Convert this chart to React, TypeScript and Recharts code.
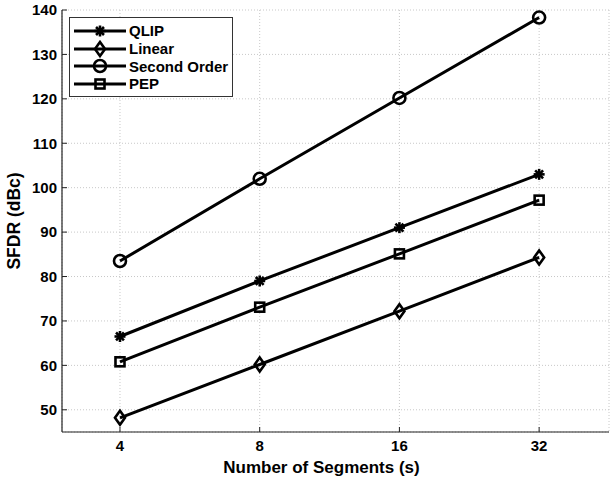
import React from 'react';
import {
    LineChart,
    Line,
    XAxis,
    YAxis,
    CartesianGrid,
    Legend
} from 'recharts';

const segments = ['4', '8', '16', '32'];
const qlip = [66.5, 79.0, 91.0, 103.0];
const linear = [48.2, 60.2, 72.2, 84.3];
const secondOrder = [83.5, 102.0, 120.2, 138.3];
const pep = [60.8, 73.1, 85.1, 97.2];
const yTicks = [50, 60, 70, 80, 90, 100, 110, 120, 130, 140];

const data = segments.map((s, i) => ({
    idx: i + 1,
    seg: s,
    qlip: qlip[i],
    linear: linear[i],
    second: secondOrder[i],
    pep: pep[i],
}));

const series = [
    { key: 'qlip', name: 'QLIP', marker: 'star' },
    { key: 'linear', name: 'Linear', marker: 'diamond' },
    { key: 'second', name: 'Second Order', marker: 'circle' },
    { key: 'pep', name: 'PEP', marker: 'square' },
];

const FONT = '"Liberation Sans", Arial, Helvetica, sans-serif';

const Marker = ({ cx, cy, kind }: { cx: number; cy: number; kind: string }) => {
    const sw = 2.6;
    if (kind === 'star') {
        const r = 5.5;
        const d = r * 0.72;
        return (
            <g stroke="#000" strokeWidth={sw} strokeLinecap="butt">
                <line x1={cx - r} y1={cy} x2={cx + r} y2={cy} />
                <line x1={cx} y1={cy - r} x2={cx} y2={cy + r} />
                <line x1={cx - d} y1={cy - d} x2={cx + d} y2={cy + d} />
                <line x1={cx - d} y1={cy + d} x2={cx + d} y2={cy - d} />
            </g>
        );
    }
    if (kind === 'diamond') {
        return (
            <path
                d={`M${cx},${cy - 7} L${cx + 5},${cy} L${cx},${cy + 7} L${cx - 5},${cy} Z`}
                fill="none"
                stroke="#000"
                strokeWidth={sw}
            />
        );
    }
    if (kind === 'circle') {
        return <circle cx={cx} cy={cy} r={6} fill="none" stroke="#000" strokeWidth={sw} />;
    }
    return <rect x={cx - 4.5} y={cy - 4.5} width={9} height={9} fill="none" stroke="#000" strokeWidth={sw} />;
};

const CustomLegend = () => (
    <div
        style={{
            border: '1px solid #333',
            background: '#fff',
            padding: '4px 0 3px 0',
            fontFamily: FONT,
            fontWeight: 'bold',
            fontSize: 15,
            color: '#000',
        }}
    >
        {series.map((s) => (
            <div key={s.key} style={{ display: 'flex', alignItems: 'center', height: 17.7 }}>
                <svg width={59} height={18} style={{ display: 'block' }}>
                    <line x1={4} y1={9} x2={56} y2={9} stroke="#000" strokeWidth={3} />
                    <Marker cx={30} cy={9} kind={s.marker} />
                </svg>
                <span style={{ lineHeight: '17px' }}>{s.name}</span>
            </div>
        ))}
    </div>
);

export default function App() {
    return (
        <div style={{ position: 'absolute', left: 0, top: 0, background: '#fff' }}>
            <LineChart
                width={610}
                height={480}
                data={data}
                margin={{ top: 10, right: 1, left: 0, bottom: 0 }}
                style={{ fontFamily: FONT }}
            >
                <CartesianGrid stroke="#c8c8c8" strokeDasharray="1 2" />
                <XAxis
                    dataKey="idx"
                    type="number"
                    domain={[0.585, 4.5]}
                    ticks={[1, 2, 3, 4]}
                    allowDataOverflow
                    height={48}
                    tickFormatter={(v: number) => segments[v - 1]}
                    tick={{ fill: '#000', fontSize: 15, fontWeight: 'bold' }}
                    tickSize={-5}
                    tickMargin={13}
                    tickLine={{ stroke: '#222' }}
                    axisLine={{ stroke: '#222', strokeWidth: 1.2 }}
                    label={{
                        value: 'Number of Segments (s)',
                        position: 'insideBottom',
                        offset: 7,
                        dx: -14,
                        fill: '#000',
                        fontSize: 17,
                        fontWeight: 'bold',
                        fontFamily: FONT,
                    }}
                />
                <XAxis
                    xAxisId="top"
                    dataKey="idx"
                    type="number"
                    orientation="top"
                    domain={[0.585, 4.5]}
                    ticks={[1, 2, 3, 4]}
                    allowDataOverflow
                    height={0}
                    tick={false}
                    tickSize={-5}
                    tickLine={{ stroke: '#222' }}
                    axisLine={{ stroke: '#222', strokeWidth: 1.2 }}
                />
                <YAxis
                    domain={[45, 140]}
                    ticks={yTicks}
                    allowDataOverflow
                    width={62}
                    tick={{ fill: '#000', fontSize: 15, fontWeight: 'bold' }}
                    tickSize={-5}
                    tickMargin={10}
                    tickLine={{ stroke: '#222' }}
                    axisLine={{ stroke: '#222', strokeWidth: 1.2 }}
                    label={{
                        value: 'SFDR (dBc)',
                        angle: -90,
                        position: 'insideLeft',
                        offset: 14,
                        fill: '#000',
                        fontSize: 17.5,
                        fontWeight: 'bold',
                        fontFamily: FONT,
                        textAnchor: 'middle',
                    }}
                />
                <YAxis
                    yAxisId="right"
                    orientation="right"
                    domain={[45, 140]}
                    ticks={yTicks}
                    allowDataOverflow
                    width={0}
                    tick={false}
                    tickSize={-5}
                    tickLine={{ stroke: '#222' }}
                    axisLine={{ stroke: '#222', strokeWidth: 1.2 }}
                />
                <Legend
                    layout="horizontal"
                    verticalAlign="middle"
                    align="center"
                    content={<CustomLegend />}
                    wrapperStyle={{ position: 'absolute', left: 69, top: 17, width: 164, height: 'auto' }}
                />
                {series.map((s) => (
                    <Line
                        key={s.key}
                        type="linear"
                        dataKey={s.key}
                        name={s.name}
                        stroke="#000"
                        strokeWidth={3}
                        isAnimationActive={false}
                        dot={(p: any) => <Marker key={`${s.key}-${p.index}`} cx={p.cx} cy={p.cy} kind={s.marker} />}
                        activeDot={false}
                    />
                ))}
            </LineChart>
        </div>
    );
}
